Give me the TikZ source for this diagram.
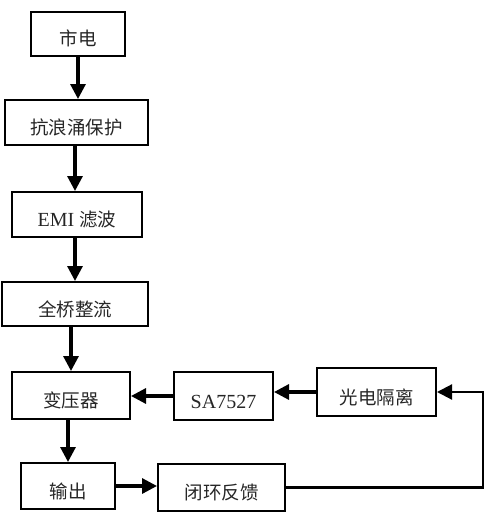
\documentclass[tikz,border=0pt]{standalone}
\usepackage{fontspec}
\setmainfont{Liberation Serif}
\newfontfamily\cjk{Noto Sans CJK SC}
\usetikzlibrary{arrows.meta}
\begin{document}
\begin{tikzpicture}[x=1pt,y=-1pt,
  box/.style={draw, line width=2pt, inner sep=0pt, text=black!85,
    font=\fontsize{20}{22}\selectfont, text height=24pt, text depth=0pt},
  cjkt/.style={font=\fontsize{18.5}{20}\selectfont\cjk},
  arr/.style={line width=3.2pt, -{Triangle[length=15pt,width=15pt]}},
  fbline/.style={line width=2.2pt, -{Triangle[length=15pt,width=15pt]}}]
\useasboundingbox (0,0) rectangle (500,527);
\node[box, cjkt, minimum width=94pt, minimum height=44pt] (shidian) at (78,34) {市电};
\node[box, cjkt, minimum width=143pt, minimum height=45pt] (kanglang) at (76.5,122.5) {抗浪涌保护};
\node[box, minimum width=130pt, minimum height=45pt] (emi) at (77,214.5) {EMI {\fontsize{18.5}{20}\selectfont\cjk 滤波}};
\node[box, cjkt, minimum width=146pt, minimum height=44pt] (quanqiao) at (75,304) {全桥整流};
\node[box, cjkt, minimum width=118pt, minimum height=47pt] (bianyaqi) at (71,395.5) {变压器};
\node[box, minimum width=99pt, minimum height=48pt] (sa) at (223.5,396) {SA7527};
\node[box, cjkt, minimum width=119pt, minimum height=48pt] (guangdian) at (376.5,392) {光电隔离};
\node[box, cjkt, minimum width=94pt, minimum height=46pt] (shuchu) at (68,486) {输出};
\node[box, cjkt, minimum width=127pt, minimum height=47pt] (bihuan) at (221.5,487.5) {闭环反馈};
\coordinate (fb) at (483,0);
\draw[arr] (shidian.south) -- (shidian.south |- kanglang.north);
\draw[arr] (kanglang.south -| 75,0) -- (emi.north -| 75,0);
\draw[arr] (emi.south -| 75,0) -- (quanqiao.north -| 75,0);
\draw[arr] (bianyaqi.north |- quanqiao.south) -- (bianyaqi.north);
\draw[arr] (shuchu.north |- bianyaqi.south) -- (shuchu.north);
\draw[arr] (sa.west) -- (sa.west -| bianyaqi.east);
\draw[arr] (guangdian.west) -- (guangdian.west -| sa.east);
\draw[arr] (shuchu.east) -- (shuchu.east -| bihuan.west);
\draw[fbline] (bihuan.east) -| (fb |- guangdian.east) -- (guangdian.east);
\end{tikzpicture}
\end{document}
